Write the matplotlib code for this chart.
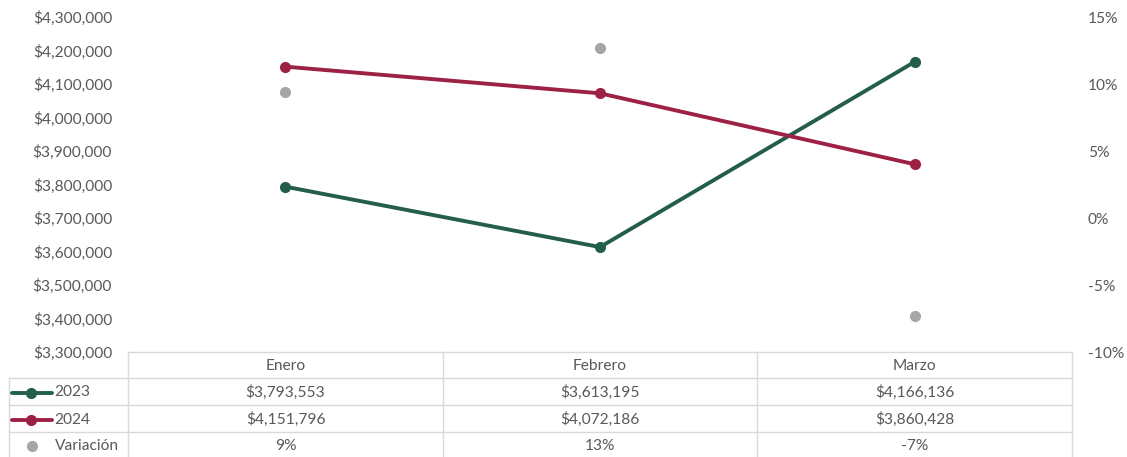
import matplotlib
matplotlib.use("Agg")
import matplotlib.pyplot as plt
from matplotlib.lines import Line2D
from matplotlib.ticker import FuncFormatter, MultipleLocator

plt.rcParams["font.family"] = ["Lato", "DejaVu Sans"]

# data
months = ["Enero", "Febrero", "Marzo"]
sales_2023 = [3793553, 3613195, 4166136]
sales_2024 = [4151796, 4072186, 3860428]
variation = [0.0944, 0.1270, -0.0734]
variation_labels = ["9%", "13%", "-7%"]

GREEN = "#245e4b"
RED = "#9d2144"
GRAY = "#a6a6a6"
TEXT = "#595959"
GRID = "#d9d9d9"

W, H = 1127, 457
fig = plt.figure(figsize=(W / 100, H / 100), dpi=100)

# plot area in pixels
x0, x1, ytop, ybot = 128, 1072, 17, 352
ax = fig.add_axes([x0 / W, 1 - ybot / H, (x1 - x0) / W, (ybot - ytop) / H])
x = range(len(months))
ax.plot(x, sales_2023, color=GREEN, lw=2.8, marker="o", ms=7, solid_capstyle="round")
ax.plot(x, sales_2024, color=RED, lw=2.8, marker="o", ms=7, solid_capstyle="round")
ax.set_xlim(-0.5, len(months) - 0.5)
ax.set_ylim(3300000, 4300000)
ax.yaxis.set_major_locator(MultipleLocator(100000))
ax.yaxis.set_major_formatter(FuncFormatter(lambda v, _: f"${v:,.0f}"))
ax.set_xticks([])
for s in ax.spines.values():
    s.set_visible(False)
ax.tick_params(axis="y", length=0, pad=11.5, labelsize=11.2, labelcolor=TEXT)

ax2 = ax.twinx()
ax2.plot(x, variation, ls="none", marker="o", ms=7, color=GRAY)
ax2.set_ylim(-0.10, 0.15)
ax2.yaxis.set_major_locator(MultipleLocator(0.05))
ax2.yaxis.set_major_formatter(FuncFormatter(lambda v, _: f"{v * 100:.0f}%"))
for s in ax2.spines.values():
    s.set_visible(False)
ax2.tick_params(axis="y", length=0, pad=11.5, labelsize=11.2, labelcolor=TEXT)

# data table below the plot
tab = fig.add_axes([0, 0, 1, 1], facecolor="none")
tab.set_xlim(0, W)
tab.set_ylim(H, 0)
tab.axis("off")

col_edges = [128, 443, 757, 1072]
row_edges = [352, 378, 405, 432, 470]
legend_left = 9

def hline(y, xa, xb):
    tab.add_line(Line2D([xa, xb], [y, y], color=GRID, lw=1))

def vline(xv, ya, yb):
    tab.add_line(Line2D([xv, xv], [ya, yb], color=GRID, lw=1))

hline(row_edges[0], col_edges[0], col_edges[-1])
for y in row_edges[1:4]:
    hline(y, legend_left, col_edges[-1])
for xv in col_edges:
    vline(xv, row_edges[0], row_edges[-1])
vline(legend_left, row_edges[1], row_edges[-1])

for i, m in enumerate(months):
    cx = (col_edges[i] + col_edges[i + 1]) / 2
    tab.text(cx, (row_edges[0] + row_edges[1]) / 2 + 1, m, ha="center", va="center",
             fontsize=11.2, color=TEXT)
    rows = [f"${sales_2023[i]:,.0f}", f"${sales_2024[i]:,.0f}", variation_labels[i]]
    for r, txt in enumerate(rows):
        cy = (row_edges[r + 1] + row_edges[r + 2]) / 2 + 1
        if r == 2:
            cy = (row_edges[3] + H) / 2 + 1
        tab.text(cx, cy, txt, ha="center", va="center", fontsize=11.2, color=TEXT)

# legend keys in first column
names = ["2023", "2024", "Variación"]
for r, (name, col) in enumerate(zip(names, [GREEN, RED, GRAY])):
    cy = (row_edges[r + 1] + row_edges[r + 2]) / 2 + 1
    if r == 2:
        cy = (row_edges[3] + H) / 2 + 1
        tab.plot([32], [cy], marker="o", ms=7, color=col, ls="none")
        tab.text(55, cy, name, ha="left", va="center", fontsize=11.2, color=TEXT)
    else:
        tab.plot([12, 52], [cy, cy], color=col, lw=2.8, solid_capstyle="round")
        tab.plot([31], [cy], marker="o", ms=7, color=col)
        tab.text(54, cy, name, ha="left", va="center", fontsize=11.2, color=TEXT)

fig.savefig("out.png", dpi=100)
